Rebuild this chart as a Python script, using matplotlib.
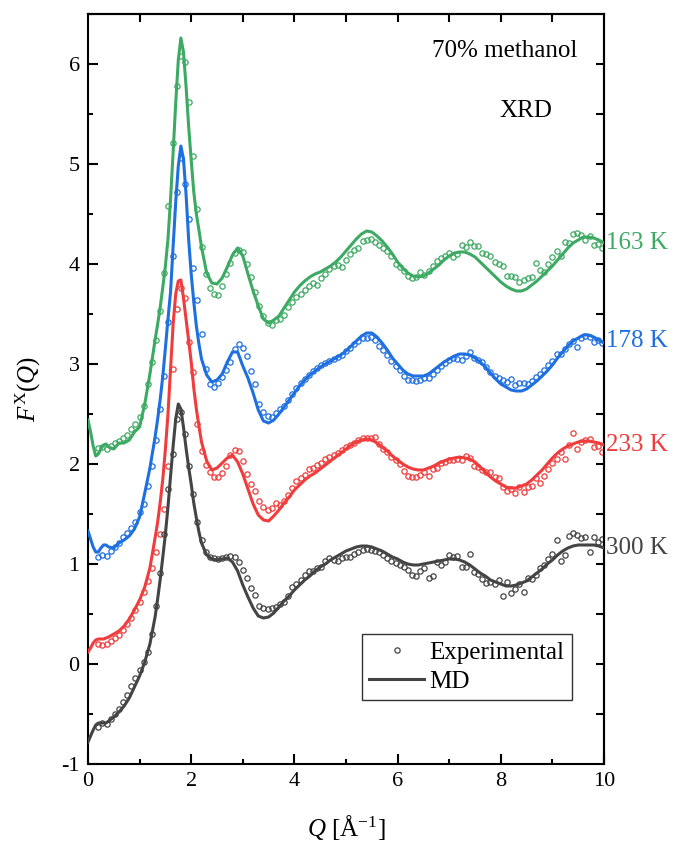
import matplotlib
matplotlib.use("Agg")
import matplotlib.pyplot as plt
from matplotlib.lines import Line2D

plt.rcParams['font.family'] = ['Liberation Serif', 'DejaVu Serif']
plt.rcParams['mathtext.fontset'] = 'custom'
plt.rcParams['mathtext.rm'] = 'Liberation Serif'
plt.rcParams['mathtext.it'] = 'Liberation Serif:italic'
plt.rcParams['axes.unicode_minus'] = False

# ---------------- data ----------------
temps = ['163 K', '178 K', '233 K', '300 K']
colors = ['#3DAA63', '#1E6FE0', '#F03C3C', '#444444']
label_y = [4.21, 3.23, 2.19, 1.16]

md_q = [0.0, 0.05, 0.1, 0.15, 0.2, 0.25, 0.3, 0.35, 0.4,
        0.5, 0.6, 0.7, 0.8, 0.9, 1.0, 1.1, 1.2, 1.3,
        1.35, 1.4, 1.45, 1.5, 1.55, 1.6, 1.65, 1.7, 1.75, 1.8, 1.85, 1.9, 1.95, 2.0, 2.05, 2.1, 2.15, 2.2,
        2.3, 2.4, 2.5, 2.6, 2.7, 2.8, 2.9, 3.0, 3.1, 3.2,
        3.3, 3.4, 3.5, 3.6, 3.7, 3.8, 3.9, 4.0, 4.1, 4.2,
        4.3, 4.4, 4.5, 4.6, 4.7, 4.8, 4.9, 5.0, 5.1, 5.2,
        5.3, 5.4, 5.5, 5.6, 5.7, 5.8, 5.9, 6.0, 6.1, 6.2,
        6.3, 6.4, 6.5, 6.6, 6.7, 6.8, 6.9, 7.0, 7.1, 7.2,
        7.3, 7.4, 7.5, 7.6, 7.7, 7.8, 7.9, 8.0, 8.1, 8.2,
        8.3, 8.4, 8.5, 8.6, 8.7, 8.8, 8.9, 9.0, 9.1, 9.2,
        9.3, 9.4, 9.5, 9.6, 9.7, 9.8, 9.9, 10.0]

md_163 = [2.44, 2.32, 2.18, 2.08, 2.10, 2.15, 2.19, 2.20, 2.17,
          2.15, 2.21, 2.21, 2.24, 2.32, 2.37, 2.60, 2.90, 3.24,
          3.40, 3.57, 3.77, 3.98, 4.25, 4.65, 5.12, 5.61, 6.04, 6.26, 6.12, 5.78, 5.38, 5.04, 4.72, 4.50, 4.34, 4.17,
          3.91, 3.81, 3.80, 3.86, 3.97, 4.09, 4.16, 4.08, 3.90, 3.73,
          3.58, 3.45, 3.41, 3.44, 3.48, 3.56, 3.64, 3.72, 3.78, 3.83,
          3.87, 3.90, 3.92, 3.95, 3.98, 4.02, 4.07, 4.13, 4.19, 4.25,
          4.30, 4.33, 4.32, 4.28, 4.23, 4.17, 4.10, 4.02, 3.96, 3.91,
          3.88, 3.87, 3.88, 3.91, 3.95, 3.99, 4.04, 4.08, 4.11, 4.12,
          4.12, 4.10, 4.07, 4.02, 3.97, 3.92, 3.87, 3.82, 3.78, 3.75,
          3.73, 3.73, 3.75, 3.79, 3.83, 3.88, 3.93, 3.98, 4.04, 4.10,
          4.16, 4.21, 4.24, 4.27, 4.27, 4.26, 4.24, 4.21]

md_178 = [1.33, 1.25, 1.17, 1.12, 1.12, 1.16, 1.19, 1.19, 1.17,
          1.16, 1.21, 1.24, 1.28, 1.35, 1.47, 1.71, 1.96, 2.27,
          2.45, 2.65, 2.88, 3.16, 3.45, 3.72, 4.18, 4.62, 4.98, 5.18, 5.05, 4.70, 4.25, 3.90, 3.62, 3.38, 3.20, 3.05,
          2.89, 2.82, 2.84, 2.90, 3.02, 3.12, 3.12, 2.98, 2.86, 2.71,
          2.54, 2.43, 2.41, 2.44, 2.50, 2.57, 2.64, 2.71, 2.78, 2.84,
          2.89, 2.93, 2.97, 3.00, 3.03, 3.06, 3.09, 3.13, 3.18, 3.23,
          3.28, 3.31, 3.31, 3.27, 3.21, 3.14, 3.06, 3.00, 2.94, 2.90,
          2.88, 2.88, 2.88, 2.90, 2.94, 2.98, 3.02, 3.05, 3.08, 3.10,
          3.10, 3.09, 3.06, 3.02, 2.97, 2.91, 2.85, 2.80, 2.77, 2.74,
          2.73, 2.73, 2.75, 2.79, 2.83, 2.88, 2.93, 2.99, 3.06, 3.12,
          3.18, 3.23, 3.26, 3.29, 3.29, 3.27, 3.24, 3.21]

md_233 = [0.12, 0.16, 0.21, 0.24, 0.25, 0.25, 0.25, 0.26, 0.27,
          0.30, 0.33, 0.38, 0.45, 0.54, 0.64, 0.77, 0.96, 1.26,
          1.42, 1.62, 1.85, 2.15, 2.50, 2.95, 3.40, 3.70, 3.83, 3.84, 3.66, 3.45, 3.24, 3.02, 2.76, 2.55, 2.38, 2.22,
          2.03, 1.94, 1.96, 2.01, 2.06, 2.09, 2.02, 1.90, 1.75, 1.60,
          1.49, 1.44, 1.43, 1.48, 1.54, 1.61, 1.67, 1.74, 1.79, 1.84,
          1.88, 1.91, 1.95, 1.99, 2.03, 2.07, 2.11, 2.15, 2.19, 2.22,
          2.24, 2.25, 2.24, 2.21, 2.17, 2.13, 2.08, 2.04, 2.00, 1.97,
          1.95, 1.94, 1.94, 1.96, 1.98, 2.01, 2.03, 2.05, 2.06, 2.07,
          2.06, 2.05, 2.02, 1.97, 1.92, 1.87, 1.83, 1.80, 1.77, 1.76,
          1.76, 1.78, 1.80, 1.84, 1.89, 1.94, 2.00, 2.06, 2.11, 2.15,
          2.18, 2.20, 2.22, 2.23, 2.23, 2.22, 2.21, 2.19]

md_300 = [-0.78, -0.72, -0.66, -0.61, -0.59, -0.59, -0.59, -0.59, -0.57,
          -0.53, -0.48, -0.42, -0.34, -0.23, -0.12, 0.02, 0.20, 0.47,
          0.65, 0.85, 1.07, 1.30, 1.57, 1.88, 2.18, 2.45, 2.60, 2.55, 2.37, 2.16, 1.97, 1.80, 1.61, 1.46, 1.32, 1.21,
          1.09, 1.05, 1.04, 1.05, 1.06, 1.02, 0.93, 0.79, 0.67, 0.56,
          0.48, 0.46, 0.47, 0.51, 0.57, 0.63, 0.68, 0.74, 0.79, 0.84,
          0.88, 0.93, 0.97, 1.00, 1.04, 1.07, 1.10, 1.13, 1.15, 1.17,
          1.18, 1.18, 1.17, 1.15, 1.13, 1.10, 1.07, 1.05, 1.02, 1.00,
          0.99, 0.99, 1.00, 1.01, 1.02, 1.03, 1.04, 1.05, 1.05, 1.04,
          1.02, 0.99, 0.95, 0.91, 0.88, 0.84, 0.82, 0.80, 0.78, 0.78,
          0.79, 0.81, 0.83, 0.87, 0.91, 0.95, 1.00, 1.04, 1.09, 1.13,
          1.16, 1.18, 1.19, 1.19, 1.19, 1.19, 1.18, 1.16]

exp_q = [0.20, 0.28, 0.36, 0.44, 0.52, 0.60, 0.68, 0.76, 0.84, 0.92,
         1.00, 1.08, 1.16, 1.24, 1.32, 1.40, 1.48, 1.56, 1.64, 1.72,
         1.80, 1.88, 1.96, 2.04, 2.12, 2.20, 2.28, 2.36, 2.44, 2.52,
         2.60, 2.68, 2.76, 2.84, 2.92, 3.00, 3.08, 3.16, 3.24, 3.32,
         3.40, 3.48, 3.56, 3.64, 3.72, 3.80, 3.88, 3.96, 4.04, 4.12,
         4.20, 4.28, 4.36, 4.44, 4.52, 4.60, 4.68, 4.76, 4.84, 4.92,
         5.00, 5.08, 5.16, 5.24, 5.32, 5.40, 5.48, 5.56, 5.64, 5.72,
         5.80, 5.88, 5.96, 6.04, 6.12, 6.20, 6.28, 6.36, 6.44, 6.52,
         6.60, 6.68, 6.76, 6.84, 6.92, 7.00, 7.08, 7.16, 7.24, 7.32,
         7.40, 7.48, 7.56, 7.64, 7.72, 7.80, 7.88, 7.96, 8.04, 8.12,
         8.20, 8.28, 8.36, 8.44, 8.52, 8.60, 8.68, 8.76, 8.84, 8.92,
         9.00, 9.08, 9.16, 9.24, 9.32, 9.40, 9.48, 9.56, 9.64, 9.72,
         9.80, 9.88, 9.96]

exp_163 = [2.16, 2.17, 2.15, 2.18, 2.21, 2.23, 2.26, 2.29, 2.35, 2.40,
           2.47, 2.58, 2.80, 3.02, 3.24, 3.53, 3.91, 4.58, 5.21, 5.78,
           6.08, 6.02, 5.62, 5.08, 4.55, 4.17, 3.90, 3.76, 3.70, 3.69,
           3.78, 3.90, 4.01, 4.11, 4.14, 4.12, 4.00, 3.87, 3.72, 3.58,
           3.48, 3.41, 3.39, 3.44, 3.45, 3.49, 3.57, 3.62, 3.67, 3.70,
           3.74, 3.78, 3.81, 3.79, 3.86, 3.90, 3.95, 3.98, 3.99, 3.97,
           4.04, 4.10, 4.14, 4.16, 4.23, 4.24, 4.25, 4.22, 4.19, 4.16,
           4.13, 4.08, 4.00, 3.97, 3.93, 3.88, 3.86, 3.87, 3.92, 3.89,
           3.93, 3.98, 4.03, 4.06, 4.08, 4.11, 4.07, 4.10, 4.19, 4.17,
           4.22, 4.18, 4.18, 4.11, 4.10, 4.08, 4.02, 4.00, 3.98, 3.88,
           3.88, 3.87, 3.82, 3.84, 3.86, 3.87, 4.01, 3.94, 3.92, 4.00,
           4.07, 4.13, 4.08, 4.22, 4.21, 4.30, 4.31, 4.29, 4.24, 4.28,
           4.19, 4.20, 4.16]

exp_178 = [1.07, 1.09, 1.08, 1.13, 1.17, 1.21, 1.27, 1.31, 1.36, 1.42,
           1.52, 1.60, 1.78, 1.98, 2.24, 2.55, 2.88, 3.42, 4.08, 4.72,
           5.06, 4.80, 4.45, 3.96, 3.64, 3.30, 2.95, 2.80, 2.77, 2.81,
           2.87, 2.94, 3.02, 3.15, 3.20, 3.16, 3.08, 2.93, 2.80, 2.60,
           2.52, 2.48, 2.47, 2.51, 2.55, 2.58, 2.64, 2.70, 2.76, 2.81,
           2.85, 2.89, 2.93, 2.96, 2.99, 3.01, 3.03, 3.05, 3.07, 3.09,
           3.13, 3.16, 3.20, 3.23, 3.26, 3.26, 3.27, 3.24, 3.18, 3.14,
           3.09, 3.03, 2.98, 2.94, 2.88, 2.84, 2.84, 2.83, 2.84, 2.86,
           2.86, 2.90, 2.94, 2.98, 3.01, 3.04, 3.06, 3.05, 3.04, 3.08,
           3.12, 3.06, 3.04, 3.02, 2.97, 2.92, 2.88, 2.86, 2.84, 2.82,
           2.85, 2.79, 2.81, 2.81, 2.80, 2.83, 2.87, 2.90, 2.94, 2.99,
           3.03, 3.10, 3.10, 3.15, 3.20, 3.23, 3.17, 3.26, 3.28, 3.27,
           3.22, 3.24, 3.21]

exp_233 = [0.20, 0.19, 0.20, 0.23, 0.26, 0.29, 0.34, 0.40, 0.46, 0.54,
           0.62, 0.72, 0.83, 0.96, 1.12, 1.30, 1.55, 1.98, 2.95, 3.55,
           3.76, 3.66, 3.22, 2.92, 2.40, 2.13, 1.99, 1.92, 1.87, 1.87,
           1.91, 1.98, 2.09, 2.14, 2.13, 2.03, 1.90, 1.80, 1.73, 1.63,
           1.57, 1.54, 1.56, 1.61, 1.59, 1.63, 1.69, 1.76, 1.83, 1.86,
           1.89, 1.95, 1.96, 1.99, 2.01, 2.05, 2.07, 2.09, 2.11, 2.14,
           2.17, 2.19, 2.21, 2.24, 2.26, 2.26, 2.26, 2.27, 2.20, 2.15,
           2.12, 2.07, 2.04, 2.00, 1.93, 1.88, 1.87, 1.87, 1.89, 1.92,
           1.88, 1.95, 1.96, 2.01, 2.02, 2.04, 2.04, 2.05, 2.04, 2.08,
           2.06, 1.98, 1.97, 1.94, 1.92, 1.92, 1.87, 1.86, 1.77, 1.73,
           1.75, 1.71, 1.77, 1.72, 1.77, 1.78, 1.86, 1.81, 1.88, 1.95,
           2.01, 2.05, 2.12, 2.05, 2.19, 2.31, 2.15, 2.22, 2.24, 2.25,
           2.17, 2.18, 2.12]

exp_300 = [-0.63, -0.59, -0.60, -0.55, -0.50, -0.45, -0.38, -0.31, -0.22, -0.14,
           -0.06, 0.02, 0.12, 0.30, 0.58, 0.91, 1.30, 1.75, 2.10, 2.45,
           2.52, 2.30, 1.98, 1.70, 1.42, 1.24, 1.12, 1.07, 1.06, 1.05,
           1.06, 1.07, 1.08, 1.07, 1.02, 0.94, 0.86, 0.76, 0.69, 0.58,
           0.56, 0.55, 0.56, 0.57, 0.60, 0.62, 0.68, 0.77, 0.80, 0.84,
           0.89, 0.93, 0.93, 0.96, 0.97, 1.03, 1.06, 1.04, 1.03, 1.06,
           1.07, 1.07, 1.10, 1.12, 1.14, 1.15, 1.14, 1.13, 1.12, 1.09,
           1.06, 1.03, 1.01, 0.99, 0.97, 0.94, 0.89, 0.88, 0.93, 0.96,
           0.86, 0.88, 1.02, 0.99, 1.02, 1.09, 1.07, 1.08, 0.97, 0.97,
           1.10, 0.92, 0.90, 0.85, 0.81, 0.82, 0.80, 0.84, 0.68, 0.82,
           0.71, 0.75, 0.80, 0.72, 0.86, 0.85, 0.89, 0.96, 0.99, 1.05,
           1.10, 1.24, 1.03, 1.09, 1.28, 1.31, 1.29, 1.26, 1.27, 1.12,
           1.27, 1.22, 1.25]

md_series = [md_163, md_178, md_233, md_300]
exp_series = [exp_163, exp_178, exp_233, exp_300]

x_major = [0, 2, 4, 6, 8, 10]
y_major = [-1, 0, 1, 2, 3, 4, 5, 6]

# ---------------- figure ----------------
fig = plt.figure(figsize=(6.76, 8.42), dpi=100)
ax = fig.add_axes([88 / 676, 1 - 764 / 842, 516 / 676, 750 / 842])

for md, ex, c in zip(md_series, exp_series, colors):
    ax.plot(exp_q, ex, ls='none', marker='o', ms=3.8, mfc='none', mec=c, mew=0.9, zorder=2)
    ax.plot(md_q, md, color=c, lw=2.2, zorder=3)

for t, yv, c in zip(temps, label_y, colors):
    ax.text(10.03, yv, t, color=c, fontsize=18, ha='left', va='center', clip_on=False)

ax.text(9.48, 6.13, '70% methanol', fontsize=18, ha='right', va='center')
ax.text(8.99, 5.53, 'XRD', fontsize=18, ha='right', va='center')

ax.set_xlim(0, 10)
ax.set_ylim(-1, 6.5)
ax.set_xticks(x_major)
ax.set_yticks(y_major)
ax.set_xticks([1, 3, 5, 7, 9], minor=True)
ax.set_yticks([-0.5, 0.5, 1.5, 2.5, 3.5, 4.5, 5.5, 6.5], minor=True)
ax.tick_params(which='major', direction='in', length=7, width=1.5, labelsize=16, pad=6)
ax.tick_params(which='minor', direction='in', length=3.5, width=1.5)
for s in ax.spines.values():
    s.set_linewidth(1.5)

secx = ax.secondary_xaxis('top')
secx.set_xticks([1, 2, 3, 4, 5, 6, 7, 8, 9])
secx.tick_params(direction='in', length=6, width=1.5, labeltop=False)
secx.spines['top'].set_linewidth(1.5)
secy = ax.secondary_yaxis('right')
secy.set_yticks([-0.5, 0, 0.5, 1, 1.5, 2, 2.5, 3, 3.5, 4, 4.5, 5, 5.5, 6])
secy.tick_params(direction='in', length=6, width=1.5, labelright=False)
secy.spines['right'].set_linewidth(1.5)

ax.set_xlabel(r'$Q$ [Å$^{-1}$]', fontsize=18)
ax.xaxis.set_label_coords(0.5, -0.066)
ax.set_ylabel(r'$F^{\mathrm{X}}(Q)$', fontsize=18)
ax.yaxis.set_label_coords(-0.088, 0.5)

handles = [Line2D([], [], ls='none', marker='o', ms=3.8, mfc='none', mec='#444444', mew=0.9),
           Line2D([], [], color='#444444', lw=2.2)]
leg = ax.legend(handles, ['Experimental', 'MD'], loc='upper left',
                bbox_to_anchor=(0.531, 0.1735), borderaxespad=0, fontsize=18,
                handlelength=2.2, handletextpad=0.2, borderpad=0.3, labelspacing=0.25,
                fancybox=False, framealpha=1, edgecolor='#333333')
leg.get_frame().set_linewidth(1.0)

fig.savefig('out.png', dpi=100)
